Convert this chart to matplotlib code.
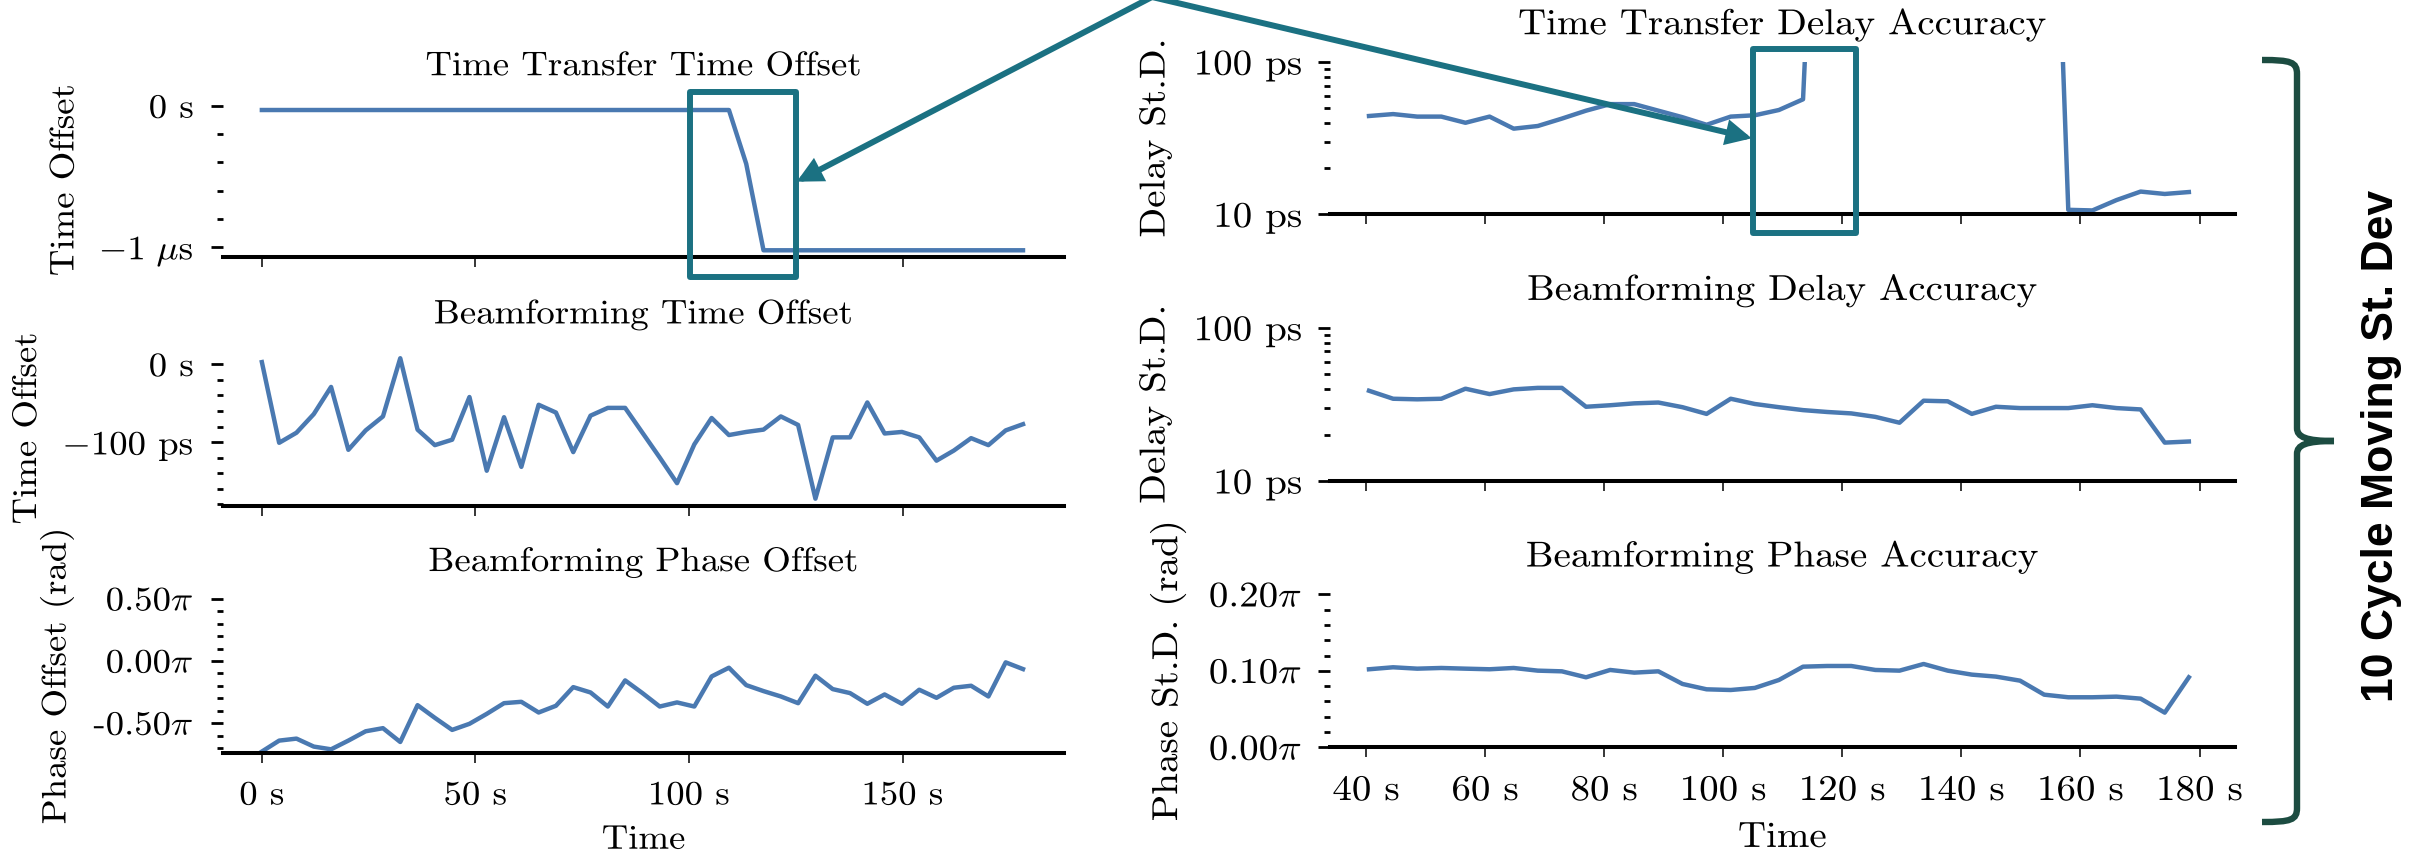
import numpy as np
import matplotlib
matplotlib.use("Agg")
import matplotlib.pyplot as plt
from matplotlib.ticker import FixedLocator, FixedFormatter, MultipleLocator, LogLocator, NullFormatter
from matplotlib.patches import Rectangle, FancyArrowPatch, PathPatch
from matplotlib.path import Path
from matplotlib.patheffects import AbstractPathEffect
from matplotlib.transforms import Affine2D
from matplotlib.text import Text

# ---------------- data ----------------
time_s = [0.0, 4.05, 8.1, 12.15, 16.2, 20.25, 24.3, 28.35, 32.4, 36.45, 40.5, 44.55,
          48.6, 52.65, 56.7, 60.75, 64.8, 68.85, 72.9, 76.95, 81.0, 85.05, 89.1, 93.15,
          97.2, 101.25, 105.3, 109.35, 113.4, 117.45, 121.5, 125.55, 129.6, 133.65,
          137.7, 141.75, 145.8, 149.85, 153.9, 157.95, 162.0, 166.05, 170.1, 174.15, 178.2]

# Time transfer time offset (microseconds)
tt_offset_us = [-0.028, -0.028, -0.028, -0.028, -0.028, -0.028, -0.028, -0.028, -0.028,
                -0.028, -0.028, -0.028, -0.028, -0.028, -0.028, -0.028, -0.028, -0.028,
                -0.028, -0.028, -0.028, -0.028, -0.028, -0.028, -0.028, -0.028, -0.028,
                -0.028, -0.41, -1.024, -1.024, -1.024, -1.024, -1.024, -1.024, -1.024,
                -1.024, -1.024, -1.024, -1.024, -1.024, -1.024, -1.024, -1.024, -1.024]

# Beamforming time offset (picoseconds)
bf_offset_ps = [3, -101, -88, -64, -29, -110, -85, -67, 8, -84, -104, -97, -42, -137, -68,
                -132, -52, -62, -113, -66, -56, -56, -88, -120, -153, -103, -69, -91, -87,
                -84, -67, -78, -173, -94, -94, -49, -89, -87, -94, -124, -111, -95, -104,
                -85, -77]

# Beamforming phase offset (units of pi rad)
bf_phase_pi = [-0.728, -0.640, -0.624, -0.688, -0.710, -0.640, -0.565, -0.540, -0.651,
               -0.355, -0.457, -0.554, -0.505, -0.425, -0.339, -0.328, -0.414, -0.360,
               -0.210, -0.253, -0.366, -0.156, -0.258, -0.366, -0.333, -0.366, -0.124,
               -0.054, -0.194, -0.242, -0.285, -0.339, -0.118, -0.226, -0.258, -0.344,
               -0.269, -0.344, -0.231, -0.296, -0.215, -0.199, -0.285, -0.011, -0.065]

# 10-cycle moving std (starts at sample 10)
tt_delay_std_ps = [44.2, 45.5, 43.8, 43.8, 39.9, 43.8, 36.5, 38.0, 42.5, 47.9, 52.9, 52.9,
                   47.9, 43.4, 38.7, 43.8, 44.7, 48.4, 56.9, 150000, 310000, 420000,
                   480000, 500000, 490000, 470000, 430000, 370000, 260000, 10.7, 10.6,
                   12.4, 14.1, 13.6, 14.0]
bf_delay_std_ps = [38.8, 34.4, 34.1, 34.4, 40.0, 36.9, 39.6, 40.5, 40.5, 30.5, 31.2, 32.1,
                   32.5, 30.3, 27.4, 34.4, 31.8, 30.3, 29.0, 28.2, 27.6, 26.2, 24.0, 33.4,
                   33.1, 27.4, 30.5, 29.9, 29.9, 29.9, 31.2, 29.9, 29.3, 17.8, 18.1]
bf_phase_std_pi = [0.102, 0.1046, 0.1028, 0.1037, 0.1028, 0.102, 0.1037, 0.1002, 0.0993,
                   0.0915, 0.1011, 0.0976, 0.0993, 0.0828, 0.0758, 0.0749, 0.0776, 0.088,
                   0.1054, 0.1063, 0.1063, 0.1011, 0.1002, 0.1089, 0.1002, 0.095, 0.0924,
                   0.0871, 0.0688, 0.0654, 0.0654, 0.0662, 0.0636, 0.0453, 0.0915]

left_titles = ["Time Transfer Time Offset", "Beamforming Time Offset", "Beamforming Phase Offset"]
right_titles = ["Time Transfer Delay Accuracy", "Beamforming Delay Accuracy", "Beamforming Phase Accuracy"]
left_ylabels = ["Time Offset", "Time Offset", "Phase Offset (rad)"]
right_ylabels = ["Delay St.D.", "Delay St.D.", "Phase St.D. (rad)"]
left_xticks = [0, 50, 100, 150]
left_xticklabels = ["0 s", "50 s", "100 s", "150 s"]
right_xticks = [40, 60, 80, 100, 120, 140, 160, 180]
right_xticklabels = ["40 s", "60 s", "80 s", "100 s", "120 s", "140 s", "160 s", "180 s"]
side_label = "10 Cycle Moving St. Dev"

# ---------------- style ----------------
plt.rcParams["font.family"] = ["cmr10", "DejaVu Serif"]
plt.rcParams["mathtext.fontset"] = "cm"
plt.rcParams["axes.unicode_minus"] = False

W, H = 2412, 861
fig = plt.figure(figsize=(W / 100, H / 100), dpi=100)

LINE_C = "#4a79b1"
TEAL = "#1b7182"
BRACE_C = "#1c4c41"
LW = 3.2


class Stretch(AbstractPathEffect):
    """Widen text glyphs horizontally (along the baseline)."""

    def __init__(self, sx, anchor="center"):
        super().__init__()
        self.sx = sx
        self.anchor = anchor

    def draw_path(self, renderer, gc, tpath, affine, rgbFace=None):
        ext = tpath.get_extents()
        if self.anchor == "right":
            x0 = ext.x1
        elif self.anchor == "left":
            x0 = ext.x0
        else:
            x0 = 0.5 * (ext.x0 + ext.x1)
        t = Affine2D().translate(-x0, 0).scale(self.sx, 1).translate(x0, 0)
        renderer.draw_path(gc, tpath, t + affine, rgbFace)


def px_axes(x0, x1, ytop, ybot):
    return fig.add_axes([x0 / W, 1 - ybot / H, (x1 - x0) / W, (ybot - ytop) / H])


def style(ax, fs, xpad, ypad):
    for s in ["left", "top", "right"]:
        ax.spines[s].set_visible(False)
    ax.spines["bottom"].set_linewidth(2.9)
    ax.tick_params(axis="x", which="major", length=7.2, width=1.1, pad=xpad, labelsize=fs)
    ax.tick_params(axis="x", which="minor", length=0)
    ax.tick_params(axis="y", which="major", length=9, width=2, pad=ypad, labelsize=fs)
    ax.tick_params(axis="y", which="minor", length=4, width=2)
    ax.set_facecolor("none")


FS_L = 24.5
FS_R = 26
SX = 1.08
TPAD = 20

# Left column
lx0, lx1 = 223, 1064
lrows = [(103, 257.3), (351.2, 505.7), (598.8, 753.3)]
left_axes = [px_axes(lx0, lx1, a, b) for a, b in lrows]
left_ylab_x = [-0.188, -0.2325, -0.1974]
# Right column
rx0, rx1 = 1330, 2234.7
rrows = [(62, 214.3), (327.7, 481), (594.3, 747.3)]
right_axes = [px_axes(rx0, rx1, a, b) for a, b in rrows]
right_ylab_x = [-0.1934, -0.1934, -0.179]

# --- left plots
ax = left_axes[0]
ax.plot(time_s, tt_offset_us, color=LINE_C, lw=LW)
ax.yaxis.set_major_locator(FixedLocator([-1, 0]))
ax.yaxis.set_major_formatter(FixedFormatter([r"$-1\ \mu\mathrm{s}$", "0 s"]))
ax.yaxis.set_minor_locator(MultipleLocator(0.2))

ax = left_axes[1]
ax.plot(time_s, bf_offset_ps, color=LINE_C, lw=LW)
ax.yaxis.set_major_locator(FixedLocator([-100, 0]))
ax.yaxis.set_major_formatter(FixedFormatter([r"$-$100 ps", "0 s"]))
ax.yaxis.set_minor_locator(MultipleLocator(20))

ax = left_axes[2]
ax.plot(time_s, bf_phase_pi, color=LINE_C, lw=LW)
ax.set_ylim(-0.742, 0.5)
ax.yaxis.set_major_locator(FixedLocator([-0.5, 0.0, 0.5]))
ax.yaxis.set_major_formatter(FixedFormatter([r"-0.50$\pi$", r"0.00$\pi$", r"0.50$\pi$"]))
ax.yaxis.set_minor_locator(MultipleLocator(0.1))

for i, ax in enumerate(left_axes):
    style(ax, FS_L, 13, 12)
    ax.set_xlim(-9.1, 187.8)
    ax.xaxis.set_major_locator(FixedLocator(left_xticks))
    ax.set_title(left_titles[i], fontsize=FS_L, pad=TPAD)
    ax.set_ylabel(left_ylabels[i], fontsize=FS_L, va="center")
    ax.yaxis.set_label_coords(left_ylab_x[i], 0.5)
    if i < 2:
        ax.set_xticklabels([])
    else:
        ax.set_xticklabels(left_xticklabels)
        ax.set_xlabel("Time", fontsize=FS_L, labelpad=11)

# --- right plots
rtime = time_s[10:]
ax = right_axes[0]
ax.plot(rtime, tt_delay_std_ps, color=LINE_C, lw=LW)
ax.set_yscale("log")
ax.set_ylim(10, 100)

ax = right_axes[1]
ax.plot(rtime, bf_delay_std_ps, color=LINE_C, lw=LW)
ax.set_yscale("log")
ax.set_ylim(10, 100)

for ax in right_axes[:2]:
    ax.yaxis.set_major_locator(FixedLocator([10, 100]))
    ax.yaxis.set_major_formatter(FixedFormatter(["10 ps", "100 ps"]))
    ax.yaxis.set_minor_locator(LogLocator(base=10, subs=[2, 3, 4, 5, 6, 7, 8, 9]))
    ax.yaxis.set_minor_formatter(NullFormatter())

ax = right_axes[2]
ax.plot(rtime, bf_phase_std_pi, color=LINE_C, lw=LW)
ax.set_ylim(0, 0.2)
ax.yaxis.set_major_locator(FixedLocator([0.0, 0.1, 0.2]))
ax.yaxis.set_major_formatter(FixedFormatter([r"0.00$\pi$", r"0.10$\pi$", r"0.20$\pi$"]))
ax.yaxis.set_minor_locator(MultipleLocator(0.02))

for i, ax in enumerate(right_axes):
    style(ax, FS_R, 13, 11)
    ax.set_xlim(33.95, 185.9)
    ax.xaxis.set_major_locator(FixedLocator(right_xticks))
    ax.set_title(right_titles[i], fontsize=FS_R, pad=TPAD)
    ax.set_ylabel(right_ylabels[i], fontsize=FS_R, va="center")
    ax.yaxis.set_label_coords(right_ylab_x[i], 0.5)
    if i < 2:
        ax.set_xticklabels([])
    else:
        ax.set_xticklabels(right_xticklabels)
        ax.set_xlabel("Time", fontsize=FS_R, labelpad=11)


# ---------------- annotations (figure pixel coords) ----------------
def P(x, y):
    return (x / W, 1 - y / H)


for (x0, y0, x1, y1) in [(690, 91.7, 795.7, 276.7), (1753.3, 49.3, 1856, 232.7)]:
    r = Rectangle(P(x0, y1), (x1 - x0) / W, (y1 - y0) / H, transform=fig.transFigure,
                  fill=False, edgecolor=TEAL, lw=4.3, joinstyle="round", zorder=10)
    fig.add_artist(r)

apex = P(1152, -3)
for tip in [P(796.7, 181.7), P(1751.7, 138.3)]:
    a = FancyArrowPatch(apex, tip, transform=fig.transFigure, arrowstyle="-|>",
                        mutation_scale=30, lw=4.3, color=TEAL, shrinkA=0, shrinkB=0,
                        joinstyle="miter", zorder=11)
    fig.add_artist(a)

verts = [(2262, 60), (2291, 60), (2297, 62), (2297, 74),
         (2297, 428),
         (2297, 437), (2306, 441), (2334, 441),
         (2306, 441), (2297, 445), (2297, 454),
         (2297, 808),
         (2297, 820), (2291, 822), (2262, 822)]
codes = [Path.MOVETO, Path.CURVE4, Path.CURVE4, Path.CURVE4,
         Path.LINETO,
         Path.CURVE4, Path.CURVE4, Path.CURVE4,
         Path.CURVE4, Path.CURVE4, Path.CURVE4,
         Path.LINETO,
         Path.CURVE4, Path.CURVE4, Path.CURVE4]
brace = PathPatch(Path([P(x, y) for x, y in verts], codes), transform=fig.transFigure,
                  fill=False, edgecolor=BRACE_C, lw=4.6, capstyle="butt", zorder=10)
fig.add_artist(brace)

side = fig.text(2381 / W, 1 - 446 / H, side_label, rotation=90, ha="center", va="center",
                fontsize=32, fontweight="bold", family=["Liberation Sans"], color="black")

# widen the Computer Modern texts slightly (the reference uses a wider cut)
fig.canvas.draw()
for t in fig.findobj(Text):
    if t is side or not t.get_text():
        continue
    ha = t.get_horizontalalignment()
    t.set_path_effects([Stretch(SX, "right" if ha == "right" else ("left" if ha == "left" else "center"))])

fig.savefig("out.png", dpi=100)
